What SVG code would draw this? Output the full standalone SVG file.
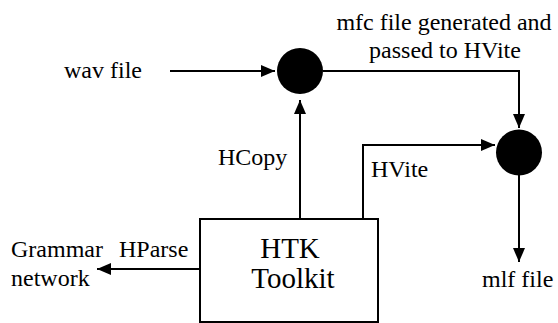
<svg xmlns="http://www.w3.org/2000/svg" width="558" height="323" viewBox="0 0 558 323">
<defs>
<style>
text{font-family:'Liberation Serif','Times New Roman',serif;font-size:24px;fill:#000}
.big{font-size:29px}
.ln{fill:none;stroke:#000;stroke-width:2}
.dot{fill:#000}
</style>
<marker id="ah" viewBox="0 0 14 12" refX="14" refY="6" markerWidth="14" markerHeight="12" markerUnits="userSpaceOnUse" orient="auto">
<path d="M0,0 L14,6 L0,12 Z" fill="#000"/>
</marker>
</defs>
<rect width="558" height="323" fill="#fff"/>
<g id="connectors">
<path class="ln" d="M170,71 H275" marker-end="url(#ah)"/>
<path class="ln" d="M300,219 V100" marker-end="url(#ah)"/>
<path class="ln" d="M323,71 H519 V128" marker-end="url(#ah)"/>
<path class="ln" d="M363,219 V145 H495" marker-end="url(#ah)"/>
<path class="ln" d="M519,175 V262" marker-end="url(#ah)"/>
<path class="ln" d="M200,269 H97" marker-end="url(#ah)"/>
</g>
<g id="wav"><text x="64" y="78">wav file</text></g>
<g id="node1"><circle class="dot" cx="300" cy="71" r="23"/></g>
<g id="node2"><circle class="dot" cx="519" cy="152.5" r="23"/></g>
<g id="mfc"><text x="444" y="30" text-anchor="middle">mfc file generated and</text><text x="445" y="58" text-anchor="middle">passed to HVite</text></g>
<g id="htk">
<rect class="ln" x="200" y="219" width="178" height="103"/>
<text class="big" x="290" y="258" text-anchor="middle">HTK</text>
<text class="big" x="293" y="288" text-anchor="middle">Toolkit</text>
</g>
<g id="labels">
<text x="218" y="165">HCopy</text>
<text x="371" y="177">HVite</text>
<text x="119" y="257">HParse</text>
</g>
<g id="grammar"><text x="11" y="257">Grammar</text><text x="11" y="286">network</text></g>
<g id="mlf"><text x="482" y="287">mlf file</text></g>
</svg>
